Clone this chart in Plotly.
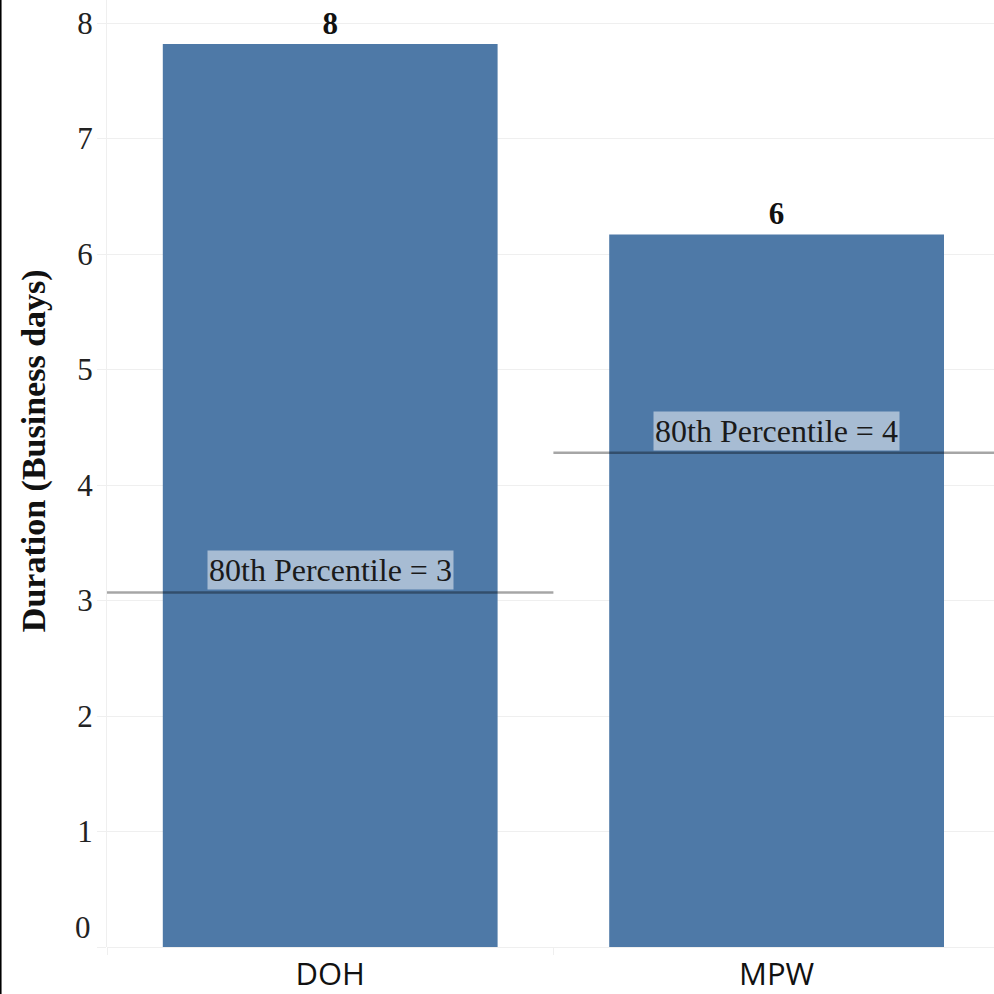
import plotly.graph_objects as go

# ---- data ----
categories = ["DOH", "MPW"]
durations = [7.82, 6.17]            # average duration (business days)
percentile80 = [3.07, 4.28]         # 80th percentile reference values
ytick_vals = [0, 1, 2, 3, 4, 5, 6, 7, 8]
ytick_labels = ["0", "1", "2", "3", "4", "5", "6", "7", "8"]

BAR = "#4e79a7"
SERIF = "Liberation Serif, Times New Roman, serif"
GRID = "#efefef"

fig = go.Figure()
fig.add_trace(go.Bar(
    x=categories, y=durations, width=0.75,
    marker=dict(color=BAR, line=dict(width=0)),
    text=[f"{round(v):d}" for v in durations],
    textposition="outside", cliponaxis=False,
    textfont=dict(family=SERIF, size=31, color="#111", weight="bold"),
    hoverinfo="skip",
))

shapes = []
annotations = []
for i, (c, p) in enumerate(zip(categories, percentile80)):
    shapes.append(dict(type="line", xref="x", yref="y", x0=i - 0.5, x1=i + 0.5,
                       y0=p, y1=p, line=dict(color="rgba(0,0,0,0.35)", width=2.5),
                       layer="above"))
    annotations.append(dict(x=c, y=p, xref="x", yref="y", yanchor="bottom",
                            yshift=2, showarrow=False,
                            text=f"80th Percentile = {round(p):d}",
                            font=dict(family=SERIF, size=32, color="#1a1a1a"),
                            bgcolor="rgba(255,255,255,0.5)", borderpad=1))

# tick label "0" sits raised above the baseline
annotations.append(dict(x=-0.016, y=ytick_vals[0], xref="paper", yref="y",
                        xanchor="right", yanchor="middle", yshift=20, showarrow=False,
                        text=ytick_labels[0],
                        font=dict(family=SERIF, size=31, color="#222")))
# y axis title
annotations.append(dict(x=-0.083, y=0.524, xref="paper", yref="paper",
                        xanchor="center", yanchor="middle", textangle=-90,
                        showarrow=False, text="Duration (Business days)",
                        font=dict(family=SERIF, size=34, color="#111", weight="bold")))

# left page border
shapes.append(dict(type="line", xref="paper", yref="paper",
                   x0=-0.1200, x1=-0.1200, y0=-0.06, y1=1.01,
                   line=dict(color="black", width=2)))

fig.update_layout(
    width=994, height=994,
    margin=dict(l=107, r=0, t=0, b=47),
    paper_bgcolor="white", plot_bgcolor="white",
    showlegend=False,
    shapes=shapes, annotations=annotations,
    xaxis=dict(
        type="category", range=[-0.5, 1.487],
        tickfont=dict(family="Open Sans, sans-serif", size=31, color="#111"),
        showgrid=False, tickson="boundaries", ticks="outside", ticklen=7,
        tickcolor=GRID, showline=False, zeroline=False,
        ticklabelstandoff=6,
    ),
    yaxis=dict(
        range=[0, 8.2], tickvals=ytick_vals,
        ticktext=["" if v == 0 else t for v, t in zip(ytick_vals, ytick_labels)],
        tickfont=dict(family=SERIF, size=31, color="#222"),
        showgrid=True, gridcolor=GRID, gridwidth=1,
        ticks="outside", ticklen=9, tickcolor=GRID,
        showline=True, linecolor=GRID, linewidth=1,
        zeroline=True, zerolinecolor=GRID, zerolinewidth=1,
        ticklabelstandoff=-2,
    ),
)

fig.write_html("out.html", config={"displayModeBar": False},
               post_script="document.body.style.margin='0';document.body.style.overflow='hidden';")
